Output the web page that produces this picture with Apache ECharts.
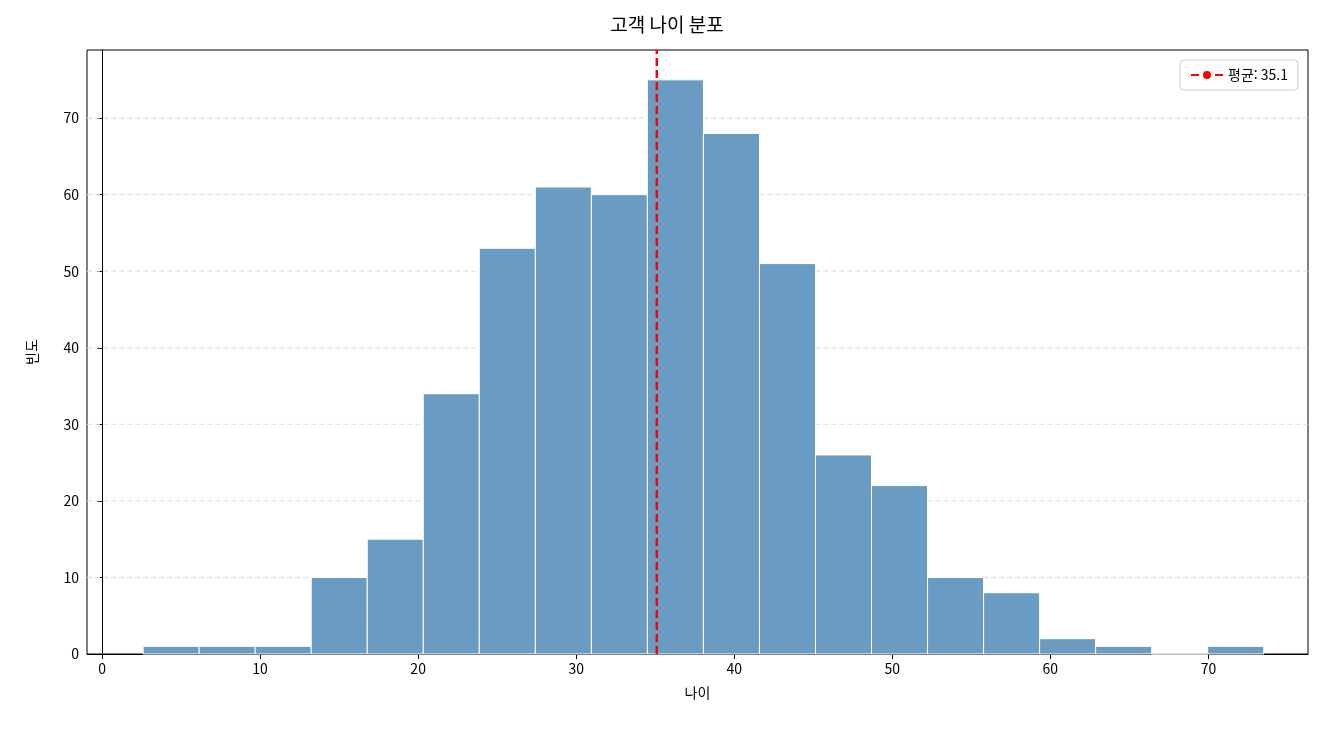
<!DOCTYPE html>
<html lang="ko" style="height: 100%;width: 100%">
<head>
    <meta charset="UTF-8">
    <title>고객 나이 분포</title>
    <script src="https://cdn.jsdelivr.net/npm/echarts@6/dist/echarts.min.js"></script>
</head>
<body style="height: 100%; margin: 0; background: #fff">
<div id="chart" style="width: 1334px; height: 734px"></div>
<script type="text/javascript">
    // histogram bins (age), 20 bins
    var binStart = 2.6;
    var binWidth = 3.545;
    var counts = [1, 1, 1, 10, 15, 34, 53, 61, 60, 75, 68, 51, 26, 22, 10, 8, 2, 1, 0, 1];
    var meanAge = 35.1;
    var xTicks = [0, 10, 20, 30, 40, 50, 60, 70];
    var yTicks = [0, 10, 20, 30, 40, 50, 60, 70];

    var FONT = '"Noto Sans CJK KR", "DejaVu Sans", sans-serif';
    var bars = counts.map(function (c, i) {
        var x0 = binStart + i * binWidth;
        return [x0, x0 + binWidth, c];
    });

    var chart = echarts.init(document.getElementById('chart'));
    var option = {
        animation: false,
        textStyle: { fontFamily: FONT },
        title: {
            text: '고객 나이 분포', left: 'center', top: 10,
            textStyle: { fontSize: 19, fontWeight: 'normal', color: '#000', fontFamily: FONT }
        },
        grid: { left: 87, right: 26, top: 50, bottom: 80, show: true, borderColor: '#000', borderWidth: 1 },
        legend: {
            right: 36, top: 60, data: ['평균: 35.1'],
            itemWidth: 32, itemHeight: 10,
            borderColor: '#ccc', borderWidth: 1, borderRadius: 4, padding: [8, 10],
            textStyle: { fontSize: 14, color: '#000' }
        },
        xAxis: {
            type: 'value', min: -0.95, max: 76.3,
            name: '나이', nameLocation: 'middle', nameGap: 32,
            nameTextStyle: { fontSize: 14, color: '#000' },
            axisLine: { lineStyle: { color: '#000' } },
            axisTick: { show: true, customValues: xTicks, lineStyle: { color: '#000' } },
            axisLabel: { customValues: xTicks, color: '#000', fontSize: 14 },
            splitLine: { show: false }
        },
        yAxis: {
            type: 'value', min: 0, max: 78.9,
            name: '빈도', nameLocation: 'middle', nameGap: 48,
            nameTextStyle: { fontSize: 14, color: '#000' },
            axisLine: { show: true, lineStyle: { color: '#000' } },
            axisTick: { show: true, customValues: yTicks, lineStyle: { color: '#000' } },
            axisLabel: { customValues: yTicks, color: '#000', fontSize: 14 },
            splitLine: { show: false }
        },
        series: [{
            type: 'custom',
            data: bars,
            z: 2,
            renderItem: function (params, api) {
                var p0 = api.coord([api.value(0), api.value(2)]);
                var p1 = api.coord([api.value(1), 0]);
                return {
                    type: 'rect',
                    shape: { x: p0[0], y: p0[1], width: p1[0] - p0[0], height: p1[1] - p0[1] },
                    style: { fill: '#6a9bc3', stroke: '#fff', lineWidth: 1 }
                };
            }
        }, {
            // horizontal dashed grid lines at y ticks
            type: 'custom',
            data: yTicks.slice(1).map(function (v) { return [v]; }),
            z: 1,
            silent: true,
            renderItem: function (params, api) {
                var a = api.coord([-0.95, api.value(0)]);
                var b = api.coord([76.3, api.value(0)]);
                return {
                    type: 'line',
                    shape: { x1: a[0], y1: a[1], x2: b[0], y2: b[1] },
                    style: { stroke: '#dddddd', lineWidth: 1, lineDash: [5, 3] }
                };
            }
        }, {
            name: '평균: 35.1',
            type: 'line',
            symbol: 'none',
            z: 5,
            data: [[meanAge, 0], [meanAge, 78.9]],
            lineStyle: { color: '#ff0000', width: 2.5, type: [8, 4] },
            itemStyle: { color: '#ff0000' }
        }]
    };
    chart.setOption(option);
</script>
</body>
</html>
